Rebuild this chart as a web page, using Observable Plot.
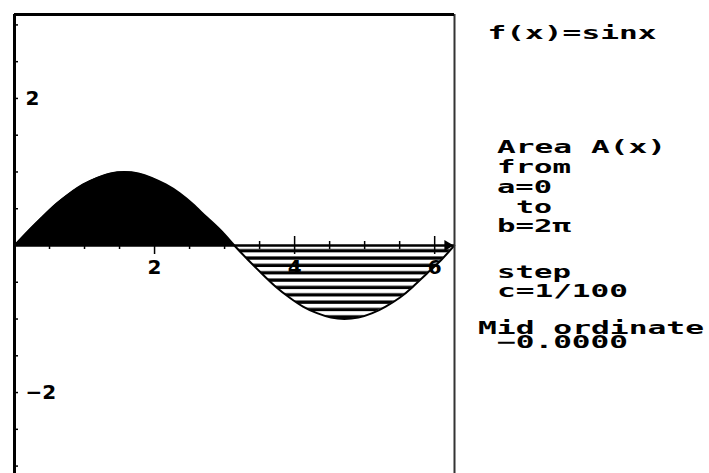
<!DOCTYPE html>
<html>
<head>
<meta charset="utf-8">
<script src="https://cdn.jsdelivr.net/npm/d3@7"></script>
<script src="https://cdn.jsdelivr.net/npm/@observablehq/plot@0.6"></script>
<style>
  body { margin: 0; background: #fff; }
  svg { display: block; }
</style>
</head>
<body>
<div id="chart"></div>
<script>
const xValues = [0, 0.20, 0.39, 0.59, 0.79, 0.98, 1.18, 1.37, 1.57, 1.77, 1.96, 2.16, 2.36, 2.55, 2.75, 2.95, 3.14,
                 3.34, 3.53, 3.73, 3.93, 4.12, 4.32, 4.52, 4.71, 4.91, 5.11, 5.30, 5.50, 5.69, 5.89, 6.09, 6.28];
const yValues = [0, 0.20, 0.38, 0.56, 0.71, 0.83, 0.92, 0.98, 1.00, 0.98, 0.92, 0.83, 0.71, 0.56, 0.38, 0.20, 0,
                 -0.20, -0.38, -0.56, -0.71, -0.83, -0.92, -0.98, -1.00, -0.98, -0.92, -0.83, -0.71, -0.56, -0.38, -0.20, 0];

const xDomain = [0, 6.2832];
const yDomain = [-3.1416, 3.1416];
const xMinorTicks = [0.5, 1, 1.5, 2.5, 3, 3.5, 4.5, 5, 5.5];
const xMajorTicks = [2, 4, 6];
const yTicks = [-3, -2.5, -2, -1.5, -1, -0.5, 0.5, 1, 1.5, 2, 2.5, 3];
const yTickLabels = [2, -2];
const hatchStep = 0.1;

const panelLines = ["f(x)=sinx", " Area A(x)", " from", " a=0", "  to", " b=2π", " step", " c=1/100", "Mid ordinate", " −0.0000"];

const pts = xValues.map((x, i) => ({x, y: yValues[i]}));
const positive = pts.slice(0, 17);
const negative = pts.slice(16);

const font = "'DejaVu Sans', sans-serif";

const chart = Plot.plot({
  width: 709,
  height: 476,
  marginLeft: 14,
  marginRight: 255,
  marginTop: 14,
  marginBottom: 0,
  x: {domain: xDomain, axis: null},
  y: {domain: yDomain, axis: null},
  style: {background: "#fff", color: "#000"},
  marks: [
    Plot.areaY(positive, {x: "x", y: "y", fill: "#000", curve: "natural"}),
    Plot.areaY(negative, {x: "x", y: "y", fill: "url(#hatch)", curve: "natural"}),
    Plot.lineY(pts, {x: "x", y: "y", stroke: "#000", strokeWidth: 2, curve: "natural"}),
    Plot.ruleY([0], {stroke: "#000", strokeWidth: 2.5}),
    Plot.ruleX(xMinorTicks, {x: d => d, y1: 0, y2: 0, insetTop: 4, insetBottom: 4, stroke: "#000", strokeWidth: 1.5}),
    Plot.ruleX(xMajorTicks, {x: d => d, y1: 0, y2: 0, insetTop: 9, insetBottom: 9, stroke: "#000", strokeWidth: 1.5}),
    Plot.ruleY(yTicks, {y: d => d, x1: 0, x2: 0, insetLeft: 0, insetRight: -4, stroke: "#000", strokeWidth: 1.5}),
    Plot.dot([xDomain[1]], {x: d => d, y: 0, symbol: "triangle", rotate: 90, r: 4, fill: "#000", stroke: "none", dx: -7}),
    Plot.ruleX([xDomain[0]], {x: d => d, stroke: "#000", strokeWidth: 3}),
    Plot.ruleX([xDomain[1]], {x: d => d, stroke: "#333", strokeWidth: 2}),
    Plot.ruleY([yDomain[1]], {y: d => d, stroke: "#000", strokeWidth: 3}),
    Plot.text(xMajorTicks, {x: d => d, y: 0, dy: 22, text: d => String(d), fontSize: 20, fontWeight: "bold", fontFamily: font, fill: "#000"}),
    Plot.text(yTickLabels, {x: 0, y: d => d, dx: 11, textAnchor: "start", text: d => d < 0 ? "−" + Math.abs(d) : String(d), fontSize: 20, fontWeight: "bold", fontFamily: font, fill: "#000"})
  ]
});

document.getElementById("chart").appendChild(chart);

// hatch pattern aligned with the y scale (one line every 0.1 unit)
const svg = d3.select(chart);
const yS = chart.scale("y");
const y0 = yS.apply(0);
const per = yS.apply(-hatchStep) - y0;
const pat = svg.insert("defs", ":first-child").append("pattern")
  .attr("id", "hatch").attr("patternUnits", "userSpaceOnUse")
  .attr("x", 0).attr("y", y0).attr("width", 8).attr("height", per);
pat.append("rect").attr("x", 0).attr("y", per * 0.55).attr("width", 8).attr("height", per * 0.45).attr("fill", "#000");

// side panel text
const panelLayout = {col0: 478, pitch: 19, baselines: [39, 153, 173, 193, 213, 232, 278, 297, 334, 348], cols: [0.5]};
const g = svg.append("g")
  .attr("font-family", "'DejaVu Sans Mono', monospace")
  .attr("font-weight", "bold")
  .attr("font-size", 17.5)
  .attr("text-anchor", "start")
  .attr("fill", "#000");
panelLines.forEach((line, i) => {
  const lead = line.length - line.trimStart().length;
  const t = line.trimStart();
  const col = panelLayout.cols[i] !== undefined ? panelLayout.cols[i] : lead;
  g.append("text")
    .attr("x", panelLayout.col0 + col * panelLayout.pitch)
    .attr("y", panelLayout.baselines[i])
    .attr("textLength", t.length * panelLayout.pitch - 2)
    .attr("lengthAdjust", "spacingAndGlyphs")
    .text(t);
});
</script>
</body>
</html>
